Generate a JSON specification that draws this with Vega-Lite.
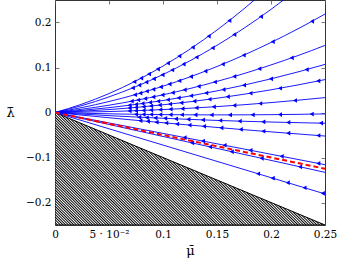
{
"$schema":"https://vega.github.io/schema/vega-lite/v6.json",
"width":270,"height":225,
"autosize":{"type":"none"},
"padding":{"left":55,"top":0,"right":17,"bottom":41},
"config":{
 "view":{"stroke":"#333","strokeWidth":1},
 "axis":{"domain":false,"grid":false,"labelFont":"DejaVu Serif","labelFontSize":10.5,"labelColor":"#000","tickColor":"#555","tickWidth":0.8,"tickSize":-4,"labelPadding":8,"labelFlush":false,"labelOverlap":false,"titleFont":"DejaVu Serif","titleFontWeight":"normal","titleColor":"#000","titleFontSize":13}
},
"datasets":{
 "hatch":[{"mu":0,"upper":0,"lower":-0.25},{"mu":0.25,"upper":-0.25,"lower":-0.25}],
 "curves":[
  {"curve":"L1","mu":0,"lambda":0},{"curve":"L1","mu":0.025,"lambda":0.0187},{"curve":"L1","mu":0.05,"lambda":0.0421},{"curve":"L1","mu":0.075,"lambda":0.0703},{"curve":"L1","mu":0.1,"lambda":0.1032},{"curve":"L1","mu":0.125,"lambda":0.1409},{"curve":"L1","mu":0.15,"lambda":0.1833},{"curve":"L1","mu":0.175,"lambda":0.2305},{"curve":"L1","mu":0.2,"lambda":0.2824},
  {"curve":"L2","mu":0,"lambda":0},{"curve":"L2","mu":0.025,"lambda":0.0154},{"curve":"L2","mu":0.05,"lambda":0.0347},{"curve":"L2","mu":0.075,"lambda":0.0576},{"curve":"L2","mu":0.1,"lambda":0.0844},{"curve":"L2","mu":0.125,"lambda":0.1149},{"curve":"L2","mu":0.15,"lambda":0.1493},{"curve":"L2","mu":0.175,"lambda":0.1873},{"curve":"L2","mu":0.2,"lambda":0.2292},{"curve":"L2","mu":0.225,"lambda":0.2748},
  {"curve":"L3","mu":0,"lambda":0},{"curve":"L3","mu":0.025,"lambda":0.011},{"curve":"L3","mu":0.05,"lambda":0.0244},{"curve":"L3","mu":0.075,"lambda":0.0402},{"curve":"L3","mu":0.1,"lambda":0.0584},{"curve":"L3","mu":0.125,"lambda":0.0791},{"curve":"L3","mu":0.15,"lambda":0.1022},{"curve":"L3","mu":0.175,"lambda":0.1277},{"curve":"L3","mu":0.2,"lambda":0.1556},{"curve":"L3","mu":0.225,"lambda":0.186},{"curve":"L3","mu":0.25,"lambda":0.2188},
  {"curve":"L4","mu":0,"lambda":0},{"curve":"L4","mu":0.025,"lambda":0.0073},{"curve":"L4","mu":0.05,"lambda":0.0162},{"curve":"L4","mu":0.075,"lambda":0.0269},{"curve":"L4","mu":0.1,"lambda":0.0393},{"curve":"L4","mu":0.125,"lambda":0.0533},{"curve":"L4","mu":0.15,"lambda":0.0691},{"curve":"L4","mu":0.175,"lambda":0.0865},{"curve":"L4","mu":0.2,"lambda":0.1057},{"curve":"L4","mu":0.225,"lambda":0.1265},{"curve":"L4","mu":0.25,"lambda":0.1491},
  {"curve":"L5","mu":0,"lambda":0},{"curve":"L5","mu":0.025,"lambda":0.0047},{"curve":"L5","mu":0.05,"lambda":0.0107},{"curve":"L5","mu":0.075,"lambda":0.018},{"curve":"L5","mu":0.1,"lambda":0.0267},{"curve":"L5","mu":0.125,"lambda":0.0367},{"curve":"L5","mu":0.15,"lambda":0.0481},{"curve":"L5","mu":0.175,"lambda":0.0608},{"curve":"L5","mu":0.2,"lambda":0.0748},{"curve":"L5","mu":0.225,"lambda":0.0902},{"curve":"L5","mu":0.25,"lambda":0.1069},
  {"curve":"L6","mu":0,"lambda":0},{"curve":"L6","mu":0.025,"lambda":0.0028},{"curve":"L6","mu":0.05,"lambda":0.0065},{"curve":"L6","mu":0.075,"lambda":0.0113},{"curve":"L6","mu":0.1,"lambda":0.0171},{"curve":"L6","mu":0.125,"lambda":0.0239},{"curve":"L6","mu":0.15,"lambda":0.0317},{"curve":"L6","mu":0.175,"lambda":0.0406},{"curve":"L6","mu":0.2,"lambda":0.0504},{"curve":"L6","mu":0.225,"lambda":0.0613},{"curve":"L6","mu":0.25,"lambda":0.0731},
  {"curve":"L7","mu":0,"lambda":0},{"curve":"L7","mu":0.025,"lambda":0.0008},{"curve":"L7","mu":0.05,"lambda":0.0021},{"curve":"L7","mu":0.075,"lambda":0.004},{"curve":"L7","mu":0.1,"lambda":0.0065},{"curve":"L7","mu":0.125,"lambda":0.0095},{"curve":"L7","mu":0.15,"lambda":0.0131},{"curve":"L7","mu":0.175,"lambda":0.0173},{"curve":"L7","mu":0.2,"lambda":0.022},{"curve":"L7","mu":0.225,"lambda":0.0273},{"curve":"L7","mu":0.25,"lambda":0.0331},
  {"curve":"L8","mu":0,"lambda":0},{"curve":"L8","mu":0.025,"lambda":-0.0016},{"curve":"L8","mu":0.05,"lambda":-0.0029},{"curve":"L8","mu":0.075,"lambda":-0.004},{"curve":"L8","mu":0.1,"lambda":-0.0047},{"curve":"L8","mu":0.125,"lambda":-0.0052},{"curve":"L8","mu":0.15,"lambda":-0.0053},{"curve":"L8","mu":0.175,"lambda":-0.0052},{"curve":"L8","mu":0.2,"lambda":-0.0048},{"curve":"L8","mu":0.225,"lambda":-0.0041},{"curve":"L8","mu":0.25,"lambda":-0.0031},
  {"curve":"L9","mu":0,"lambda":0},{"curve":"L9","mu":0.025,"lambda":-0.0036},{"curve":"L9","mu":0.05,"lambda":-0.007},{"curve":"L9","mu":0.075,"lambda":-0.01},{"curve":"L9","mu":0.1,"lambda":-0.0128},{"curve":"L9","mu":0.125,"lambda":-0.0153},{"curve":"L9","mu":0.15,"lambda":-0.0176},{"curve":"L9","mu":0.175,"lambda":-0.0195},{"curve":"L9","mu":0.2,"lambda":-0.0212},{"curve":"L9","mu":0.225,"lambda":-0.0226},{"curve":"L9","mu":0.25,"lambda":-0.0238},
  {"curve":"L10","mu":0,"lambda":0},{"curve":"L10","mu":0.025,"lambda":-0.0059},{"curve":"L10","mu":0.05,"lambda":-0.0117},{"curve":"L10","mu":0.075,"lambda":-0.0173},{"curve":"L10","mu":0.1,"lambda":-0.0227},{"curve":"L10","mu":0.125,"lambda":-0.028},{"curve":"L10","mu":0.15,"lambda":-0.0332},{"curve":"L10","mu":0.175,"lambda":-0.0382},{"curve":"L10","mu":0.2,"lambda":-0.043},{"curve":"L10","mu":0.225,"lambda":-0.0477},{"curve":"L10","mu":0.25,"lambda":-0.0523},
  {"curve":"L11","mu":0,"lambda":0},{"curve":"L11","mu":0.25,"lambda":-0.116},
  {"curve":"L12","mu":0,"lambda":0},{"curve":"L12","mu":0.25,"lambda":-0.133},
  {"curve":"L13","mu":0,"lambda":0},{"curve":"L13","mu":0.25,"lambda":-0.181}
 ],
 "red":[{"mu":0,"lambda":0},{"mu":0.25,"lambda":-0.125}],
 "arrows":[
  {"curve":"L1","mu":0.1614,"lambda":0.2042},{"curve":"L1","mu":0.1423,"lambda":0.1697},{"curve":"L1","mu":0.1275,"lambda":0.1449},{"curve":"L1","mu":0.1151,"lambda":0.1254},{"curve":"L1","mu":0.1045,"lambda":0.1096},{"curve":"L1","mu":0.0952,"lambda":0.0965},{"curve":"L1","mu":0.087,"lambda":0.0855},{"curve":"L1","mu":0.0798,"lambda":0.0762},{"curve":"L1","mu":0.0734,"lambda":0.0683},
  {"curve":"L2","mu":0.1907,"lambda":0.2132},{"curve":"L2","mu":0.166,"lambda":0.1732},{"curve":"L2","mu":0.146,"lambda":0.1435},{"curve":"L2","mu":0.131,"lambda":0.1228},{"curve":"L2","mu":0.119,"lambda":0.1073},{"curve":"L2","mu":0.1085,"lambda":0.0944},{"curve":"L2","mu":0.0995,"lambda":0.0838},{"curve":"L2","mu":0.0915,"lambda":0.0749},{"curve":"L2","mu":0.0845,"lambda":0.0674},{"curve":"L2","mu":0.078,"lambda":0.0607},{"curve":"L2","mu":0.072,"lambda":0.0547},
  {"curve":"L3","mu":0.238,"lambda":0.2027},{"curve":"L3","mu":0.2016,"lambda":0.1575},{"curve":"L3","mu":0.1747,"lambda":0.1273},{"curve":"L3","mu":0.1553,"lambda":0.1074},{"curve":"L3","mu":0.1392,"lambda":0.0919},{"curve":"L3","mu":0.1259,"lambda":0.0799},{"curve":"L3","mu":0.1151,"lambda":0.0706},{"curve":"L3","mu":0.106,"lambda":0.0631},{"curve":"L3","mu":0.098,"lambda":0.0569},{"curve":"L3","mu":0.091,"lambda":0.0516},{"curve":"L3","mu":0.085,"lambda":0.0472},{"curve":"L3","mu":0.079,"lambda":0.0429},{"curve":"L3","mu":0.074,"lambda":0.0395},
  {"curve":"L4","mu":0.2192,"lambda":0.1215},{"curve":"L4","mu":0.1892,"lambda":0.0972},{"curve":"L4","mu":0.166,"lambda":0.0801},{"curve":"L4","mu":0.148,"lambda":0.0678},{"curve":"L4","mu":0.133,"lambda":0.0582},{"curve":"L4","mu":0.12,"lambda":0.0504},{"curve":"L4","mu":0.109,"lambda":0.0441},{"curve":"L4","mu":0.0995,"lambda":0.039},{"curve":"L4","mu":0.091,"lambda":0.0346},{"curve":"L4","mu":0.0835,"lambda":0.0309},{"curve":"L4","mu":0.077,"lambda":0.0278},{"curve":"L4","mu":0.071,"lambda":0.0251},
  {"curve":"L5","mu":0.233,"lambda":0.0954},{"curve":"L5","mu":0.2,"lambda":0.0748},{"curve":"L5","mu":0.175,"lambda":0.0608},{"curve":"L5","mu":0.156,"lambda":0.051},{"curve":"L5","mu":0.14,"lambda":0.0434},{"curve":"L5","mu":0.126,"lambda":0.0372},{"curve":"L5","mu":0.1145,"lambda":0.0324},{"curve":"L5","mu":0.1045,"lambda":0.0284},{"curve":"L5","mu":0.0955,"lambda":0.025},{"curve":"L5","mu":0.088,"lambda":0.0224},{"curve":"L5","mu":0.081,"lambda":0.02},{"curve":"L5","mu":0.075,"lambda":0.018},{"curve":"L5","mu":0.069,"lambda":0.0161},
  {"curve":"L6","mu":0.2438,"lambda":0.0701},{"curve":"L6","mu":0.2083,"lambda":0.0539},{"curve":"L6","mu":0.181,"lambda":0.0428},{"curve":"L6","mu":0.16,"lambda":0.0351},{"curve":"L6","mu":0.143,"lambda":0.0294},{"curve":"L6","mu":0.129,"lambda":0.0251},{"curve":"L6","mu":0.117,"lambda":0.0216},{"curve":"L6","mu":0.1065,"lambda":0.0188},{"curve":"L6","mu":0.097,"lambda":0.0164},{"curve":"L6","mu":0.089,"lambda":0.0144},{"curve":"L6","mu":0.082,"lambda":0.0128},{"curve":"L6","mu":0.075,"lambda":0.0113},{"curve":"L6","mu":0.069,"lambda":0.0101},
  {"curve":"L7","mu":0.2222,"lambda":0.0267},{"curve":"L7","mu":0.19,"lambda":0.02},{"curve":"L7","mu":0.166,"lambda":0.0157},{"curve":"L7","mu":0.147,"lambda":0.0127},{"curve":"L7","mu":0.131,"lambda":0.0103},{"curve":"L7","mu":0.118,"lambda":0.0086},{"curve":"L7","mu":0.107,"lambda":0.0073},{"curve":"L7","mu":0.0975,"lambda":0.0062},{"curve":"L7","mu":0.089,"lambda":0.0053},{"curve":"L7","mu":0.082,"lambda":0.0047},{"curve":"L7","mu":0.075,"lambda":0.004},{"curve":"L7","mu":0.069,"lambda":0.0035},
  {"curve":"L8","mu":0.2377,"lambda":-0.0036},{"curve":"L8","mu":0.2083,"lambda":-0.0046},{"curve":"L8","mu":0.183,"lambda":-0.0051},{"curve":"L8","mu":0.162,"lambda":-0.0053},{"curve":"L8","mu":0.145,"lambda":-0.0053},{"curve":"L8","mu":0.13,"lambda":-0.0052},{"curve":"L8","mu":0.1175,"lambda":-0.005},{"curve":"L8","mu":0.107,"lambda":-0.0049},{"curve":"L8","mu":0.0975,"lambda":-0.0046},{"curve":"L8","mu":0.089,"lambda":-0.0044},{"curve":"L8","mu":0.082,"lambda":-0.0042},{"curve":"L8","mu":0.075,"lambda":-0.004},
  {"curve":"L9","mu":0.2463,"lambda":-0.0236},{"curve":"L9","mu":0.216,"lambda":-0.0221},{"curve":"L9","mu":0.1929,"lambda":-0.0208},{"curve":"L9","mu":0.171,"lambda":-0.0192},{"curve":"L9","mu":0.153,"lambda":-0.0178},{"curve":"L9","mu":0.137,"lambda":-0.0164},{"curve":"L9","mu":0.1235,"lambda":-0.0152},{"curve":"L9","mu":0.112,"lambda":-0.014},{"curve":"L9","mu":0.102,"lambda":-0.013},{"curve":"L9","mu":0.093,"lambda":-0.012},{"curve":"L9","mu":0.085,"lambda":-0.0112},{"curve":"L9","mu":0.078,"lambda":-0.0104},
  {"curve":"L10","mu":0.2438,"lambda":-0.0511},{"curve":"L10","mu":0.216,"lambda":-0.046},{"curve":"L10","mu":0.1929,"lambda":-0.0416},{"curve":"L10","mu":0.172,"lambda":-0.0376},{"curve":"L10","mu":0.154,"lambda":-0.034},{"curve":"L10","mu":0.138,"lambda":-0.0307},{"curve":"L10","mu":0.1245,"lambda":-0.0279},{"curve":"L10","mu":0.113,"lambda":-0.0255},{"curve":"L10","mu":0.103,"lambda":-0.0233},{"curve":"L10","mu":0.094,"lambda":-0.0214},{"curve":"L10","mu":0.086,"lambda":-0.0197},{"curve":"L10","mu":0.079,"lambda":-0.0181},
  {"curve":"L11","mu":0.2438,"lambda":-0.1131},{"curve":"L11","mu":0.2099,"lambda":-0.0974},{"curve":"L11","mu":0.181,"lambda":-0.084},{"curve":"L11","mu":0.157,"lambda":-0.0728},{"curve":"L11","mu":0.137,"lambda":-0.0636},{"curve":"L11","mu":0.12,"lambda":-0.0557},
  {"curve":"L12","mu":0.2269,"lambda":-0.1207},{"curve":"L12","mu":0.1914,"lambda":-0.1018},{"curve":"L12","mu":0.1636,"lambda":-0.087},{"curve":"L12","mu":0.1435,"lambda":-0.0763},{"curve":"L12","mu":0.127,"lambda":-0.0676},
  {"curve":"L13","mu":0.248,"lambda":-0.1796},{"curve":"L13","mu":0.231,"lambda":-0.1672},{"curve":"L13","mu":0.2155,"lambda":-0.156},{"curve":"L13","mu":0.2016,"lambda":-0.146},{"curve":"L13","mu":0.188,"lambda":-0.1361}
 ]
},
"layer":[
 {
  "data":{"name":"hatch"},
  "mark":{"type":"area","clip":true,"stroke":"#000","strokeWidth":1,
   "fill":{"gradient":"linear","x1":0,"y1":1,"x2":0.852,"y2":0.645,"stops":[
{"offset":0,"color":"#000"},{"offset":0.005,"color":"#fff"},{"offset":0.01,"color":"#000"},{"offset":0.015,"color":"#fff"},{"offset":0.02,"color":"#000"},{"offset":0.025,"color":"#fff"},{"offset":0.03,"color":"#000"},{"offset":0.035,"color":"#fff"},{"offset":0.04,"color":"#000"},{"offset":0.045,"color":"#fff"},
{"offset":0.05,"color":"#000"},{"offset":0.055,"color":"#fff"},{"offset":0.06,"color":"#000"},{"offset":0.065,"color":"#fff"},{"offset":0.07,"color":"#000"},{"offset":0.075,"color":"#fff"},{"offset":0.08,"color":"#000"},{"offset":0.085,"color":"#fff"},{"offset":0.09,"color":"#000"},{"offset":0.095,"color":"#fff"},
{"offset":0.1,"color":"#000"},{"offset":0.105,"color":"#fff"},{"offset":0.11,"color":"#000"},{"offset":0.115,"color":"#fff"},{"offset":0.12,"color":"#000"},{"offset":0.125,"color":"#fff"},{"offset":0.13,"color":"#000"},{"offset":0.135,"color":"#fff"},{"offset":0.14,"color":"#000"},{"offset":0.145,"color":"#fff"},
{"offset":0.15,"color":"#000"},{"offset":0.155,"color":"#fff"},{"offset":0.16,"color":"#000"},{"offset":0.165,"color":"#fff"},{"offset":0.17,"color":"#000"},{"offset":0.175,"color":"#fff"},{"offset":0.18,"color":"#000"},{"offset":0.185,"color":"#fff"},{"offset":0.19,"color":"#000"},{"offset":0.195,"color":"#fff"},
{"offset":0.2,"color":"#000"},{"offset":0.205,"color":"#fff"},{"offset":0.21,"color":"#000"},{"offset":0.215,"color":"#fff"},{"offset":0.22,"color":"#000"},{"offset":0.225,"color":"#fff"},{"offset":0.23,"color":"#000"},{"offset":0.235,"color":"#fff"},{"offset":0.24,"color":"#000"},{"offset":0.245,"color":"#fff"},
{"offset":0.25,"color":"#000"},{"offset":0.255,"color":"#fff"},{"offset":0.26,"color":"#000"},{"offset":0.265,"color":"#fff"},{"offset":0.27,"color":"#000"},{"offset":0.275,"color":"#fff"},{"offset":0.28,"color":"#000"},{"offset":0.285,"color":"#fff"},{"offset":0.29,"color":"#000"},{"offset":0.295,"color":"#fff"},
{"offset":0.3,"color":"#000"},{"offset":0.305,"color":"#fff"},{"offset":0.31,"color":"#000"},{"offset":0.315,"color":"#fff"},{"offset":0.32,"color":"#000"},{"offset":0.325,"color":"#fff"},{"offset":0.33,"color":"#000"},{"offset":0.335,"color":"#fff"},{"offset":0.34,"color":"#000"},{"offset":0.345,"color":"#fff"},
{"offset":0.35,"color":"#000"},{"offset":0.355,"color":"#fff"},{"offset":0.36,"color":"#000"},{"offset":0.365,"color":"#fff"},{"offset":0.37,"color":"#000"},{"offset":0.375,"color":"#fff"},{"offset":0.38,"color":"#000"},{"offset":0.385,"color":"#fff"},{"offset":0.39,"color":"#000"},{"offset":0.395,"color":"#fff"},
{"offset":0.4,"color":"#000"},{"offset":0.405,"color":"#fff"},{"offset":0.41,"color":"#000"},{"offset":0.415,"color":"#fff"},{"offset":0.42,"color":"#000"},{"offset":0.425,"color":"#fff"},{"offset":0.43,"color":"#000"},{"offset":0.435,"color":"#fff"},{"offset":0.44,"color":"#000"},{"offset":0.445,"color":"#fff"},
{"offset":0.45,"color":"#000"},{"offset":0.455,"color":"#fff"},{"offset":0.46,"color":"#000"},{"offset":0.465,"color":"#fff"},{"offset":0.47,"color":"#000"},{"offset":0.475,"color":"#fff"},{"offset":0.48,"color":"#000"},{"offset":0.485,"color":"#fff"},{"offset":0.49,"color":"#000"},{"offset":0.495,"color":"#fff"},
{"offset":0.5,"color":"#000"},{"offset":0.505,"color":"#fff"},{"offset":0.51,"color":"#000"},{"offset":0.515,"color":"#fff"},{"offset":0.52,"color":"#000"},{"offset":0.525,"color":"#fff"},{"offset":0.53,"color":"#000"},{"offset":0.535,"color":"#fff"},{"offset":0.54,"color":"#000"},{"offset":0.545,"color":"#fff"},
{"offset":0.55,"color":"#000"},{"offset":0.555,"color":"#fff"},{"offset":0.56,"color":"#000"},{"offset":0.565,"color":"#fff"},{"offset":0.57,"color":"#000"},{"offset":0.575,"color":"#fff"},{"offset":0.58,"color":"#000"},{"offset":0.585,"color":"#fff"},{"offset":0.59,"color":"#000"},{"offset":0.595,"color":"#fff"},
{"offset":0.6,"color":"#000"},{"offset":0.605,"color":"#fff"},{"offset":0.61,"color":"#000"},{"offset":0.615,"color":"#fff"},{"offset":0.62,"color":"#000"},{"offset":0.625,"color":"#fff"},{"offset":0.63,"color":"#000"},{"offset":0.635,"color":"#fff"},{"offset":0.64,"color":"#000"},{"offset":0.645,"color":"#fff"},
{"offset":0.65,"color":"#000"},{"offset":0.655,"color":"#fff"},{"offset":0.66,"color":"#000"},{"offset":0.665,"color":"#fff"},{"offset":0.67,"color":"#000"},{"offset":0.675,"color":"#fff"},{"offset":0.68,"color":"#000"},{"offset":0.685,"color":"#fff"},{"offset":0.69,"color":"#000"},{"offset":0.695,"color":"#fff"},
{"offset":0.7,"color":"#000"},{"offset":0.705,"color":"#fff"},{"offset":0.71,"color":"#000"},{"offset":0.715,"color":"#fff"},{"offset":0.72,"color":"#000"},{"offset":0.725,"color":"#fff"},{"offset":0.73,"color":"#000"},{"offset":0.735,"color":"#fff"},{"offset":0.74,"color":"#000"},{"offset":0.745,"color":"#fff"},
{"offset":0.75,"color":"#000"},{"offset":0.755,"color":"#fff"},{"offset":0.76,"color":"#000"},{"offset":0.765,"color":"#fff"},{"offset":0.77,"color":"#000"},{"offset":0.775,"color":"#fff"},{"offset":0.78,"color":"#000"},{"offset":0.785,"color":"#fff"},{"offset":0.79,"color":"#000"},{"offset":0.795,"color":"#fff"},
{"offset":0.8,"color":"#000"},{"offset":0.805,"color":"#fff"},{"offset":0.81,"color":"#000"},{"offset":0.815,"color":"#fff"},{"offset":0.82,"color":"#000"},{"offset":0.825,"color":"#fff"},{"offset":0.83,"color":"#000"},{"offset":0.835,"color":"#fff"},{"offset":0.84,"color":"#000"},{"offset":0.845,"color":"#fff"},
{"offset":0.85,"color":"#000"},{"offset":0.855,"color":"#fff"},{"offset":0.86,"color":"#000"},{"offset":0.865,"color":"#fff"},{"offset":0.87,"color":"#000"},{"offset":0.875,"color":"#fff"},{"offset":0.88,"color":"#000"},{"offset":0.885,"color":"#fff"},{"offset":0.89,"color":"#000"},{"offset":0.895,"color":"#fff"},
{"offset":0.9,"color":"#000"},{"offset":0.905,"color":"#fff"},{"offset":0.91,"color":"#000"},{"offset":0.915,"color":"#fff"},{"offset":0.92,"color":"#000"},{"offset":0.925,"color":"#fff"},{"offset":0.93,"color":"#000"},{"offset":0.935,"color":"#fff"},{"offset":0.94,"color":"#000"},{"offset":0.945,"color":"#fff"},
{"offset":0.95,"color":"#000"},{"offset":0.955,"color":"#fff"},{"offset":0.96,"color":"#000"},{"offset":0.965,"color":"#fff"},{"offset":0.97,"color":"#000"},{"offset":0.975,"color":"#fff"},{"offset":0.98,"color":"#000"},{"offset":0.985,"color":"#fff"},{"offset":0.99,"color":"#000"},{"offset":0.995,"color":"#fff"},
{"offset":1,"color":"#000"}
   ]}},
  "encoding":{
   "x":{"field":"mu","type":"quantitative","scale":{"domain":[0,0.25],"nice":false,"zero":false},
        "axis":{"orient":"bottom","values":[0,0.05,0.1,0.15,0.2,0.25],"format":".2~f","labelExpr":"abs(datum.value - 0.05) < 0.000001 ? '5 · 10⁻²' : datum.label","title":"μ̄","titlePadding":5}},
   "y":{"field":"upper","type":"quantitative","scale":{"domain":[-0.25,0.25],"nice":false,"zero":false},
        "axis":{"orient":"left","values":[-0.2,-0.1,0,0.1,0.2],"format":".2~f","title":"λ̄","titleAngle":0,"titleX":-45,"titleY":112,"titleAlign":"center","titleBaseline":"middle"}},
   "y2":{"field":"lower"}
  }
 },
 {
  "data":{"name":"curves"},
  "mark":{"type":"line","clip":true,"color":"#0000ff","strokeWidth":0.9,"interpolate":"monotone"},
  "encoding":{
   "x":{"field":"mu","type":"quantitative","axis":null},
   "y":{"field":"lambda","type":"quantitative","axis":null},
   "detail":{"field":"curve"}
  }
 },
 {
  "data":{"name":"red"},
  "mark":{"type":"line","clip":true,"color":"#ff0000","strokeWidth":2,"strokeDash":[5,3]},
  "encoding":{
   "x":{"field":"mu","type":"quantitative","axis":null},
   "y":{"field":"lambda","type":"quantitative","axis":null}
  }
 },
 {
  "data":{"name":"arrows"},
  "mark":{"type":"point","clip":true,"shape":"triangle-left","filled":true,"color":"#0000ff","opacity":1,"size":22},
  "encoding":{
   "x":{"field":"mu","type":"quantitative","axis":{"orient":"top","values":[0,0.05,0.1,0.15,0.2,0.25],"labels":false,"title":null}},
   "y":{"field":"lambda","type":"quantitative","axis":{"orient":"right","values":[-0.2,-0.1,0,0.1,0.2],"labels":false,"title":null}},
   "detail":{"field":"curve"}
  }
 }
],
"resolve":{"axis":{"x":"independent","y":"independent"}}
}
